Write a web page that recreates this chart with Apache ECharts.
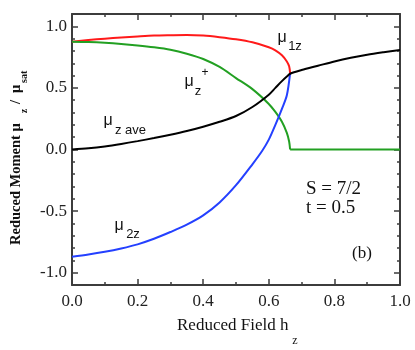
<!DOCTYPE html>
<html>
<head>
<meta charset="utf-8">
<script src="https://cdn.jsdelivr.net/npm/echarts@6/dist/echarts.min.js"></script>
<style>
  html, body { margin: 0; padding: 0; background: #fff; }
  #chart { width: 415px; height: 350px; }
</style>
</head>
<body>
<div id="chart"></div>
<script>
// reduced field h_z for each branch
const hMu1z = [0, 0.05, 0.1, 0.15, 0.2, 0.25, 0.3, 0.35, 0.4, 0.45, 0.5, 0.55, 0.6, 0.62, 0.64, 0.655, 0.662, 0.665]
const mu1z = [0.875, 0.888, 0.9, 0.91, 0.918, 0.925, 0.928, 0.93, 0.925, 0.912, 0.895, 0.87, 0.83, 0.805, 0.765, 0.715, 0.675, 0.62]

const hMu2z = [0, 0.05, 0.1, 0.15, 0.2, 0.25, 0.3, 0.35, 0.4, 0.45, 0.5, 0.55, 0.58, 0.6, 0.62, 0.64, 0.655, 0.665]
const mu2z = [-0.87, -0.852, -0.83, -0.803, -0.77, -0.725, -0.67, -0.61, -0.535, -0.43, -0.29, -0.12, -0.01, 0.08, 0.2, 0.33, 0.44, 0.62]

const hMuPlus = [0, 0.05, 0.1, 0.15, 0.2, 0.25, 0.3, 0.35, 0.4, 0.45, 0.5, 0.55, 0.6, 0.62, 0.64, 0.655, 0.662, 0.665]
const muPlus = [0.875, 0.872, 0.866, 0.857, 0.845, 0.83, 0.81, 0.778, 0.735, 0.67, 0.58, 0.49, 0.37, 0.305, 0.225, 0.135, 0.065, 0]
const hMuPlusFlat = [0.665, 1.0]
const muPlusFlat = [0, 0]

const hAve = [0, 0.05, 0.1, 0.15, 0.2, 0.25, 0.3, 0.35, 0.4, 0.45, 0.5, 0.55, 0.6, 0.62, 0.64, 0.655, 0.665, 0.7, 0.75, 0.8, 0.85, 0.9, 0.95, 1.0]
const muAve = [0, 0.01, 0.025, 0.045, 0.068, 0.093, 0.12, 0.15, 0.185, 0.225, 0.272, 0.345, 0.445, 0.5, 0.555, 0.592, 0.615, 0.645, 0.68, 0.715, 0.745, 0.77, 0.79, 0.808]

const yMajor = [-1, -0.5, 0, 0.5, 1]
const yMinor = []
for (let i = -11; i <= 11; i++) yMinor.push(i / 10)

const pairs = (xs, ys) => xs.map((x, i) => [x, ys[i]])

const axisColor = '#3c3c3c'
const serif = '"Liberation Serif", "DejaVu Serif", serif'
const sans = '"Liberation Sans", Arial, sans-serif'

function xAxisCfg(pos, labels) {
  return {
    type: 'value', position: pos, min: 0, max: 1, interval: 0.2,
    axisLine: { show: true, onZero: false, lineStyle: { color: axisColor, width: 2 } },
    axisTick: { show: true, inside: true, length: 6, lineStyle: { color: axisColor, width: 1.5 } },
    minorTick: { show: true, splitNumber: 2, length: 3, lineStyle: { color: axisColor, width: 1.5 } },
    axisLabel: { show: labels, margin: 8, color: '#222', fontFamily: serif, fontSize: 17,
      formatter: v => v.toFixed(1) },
    splitLine: { show: false },
  }
}

function yAxisCfg(pos, labels, ticks, len, line) {
  return {
    type: 'value', position: pos, min: -1.1, max: 1.1, offset: 0,
    axisLine: { show: line, onZero: false, lineStyle: { color: axisColor, width: 2 } },
    axisTick: { show: true, inside: true, length: len, customValues: ticks,
      lineStyle: { color: axisColor, width: 1.5 } },
    axisLabel: { show: labels, margin: 5, color: '#222', fontFamily: serif, fontSize: 17,
      customValues: yMajor, formatter: v => v.toFixed(1) },
    splitLine: { show: false },
  }
}

function txt(x, y, text, size, opts = {}) {
  return {
    type: 'text', x, y, rotation: opts.rotation || 0, silent: true,
    style: {
      text, fill: opts.color || '#111',
      font: (opts.weight || 'normal') + ' ' + size + 'px ' + (opts.family || sans),
      align: opts.align || 'center', verticalAlign: 'middle',
    },
  }
}

const chart = echarts.init(document.getElementById('chart'))

chart.setOption({
  animation: false,
  backgroundColor: '#fff',
  grid: { left: 72, right: 15, top: 14, bottom: 65, containLabel: false },
  xAxis: [xAxisCfg('bottom', true), xAxisCfg('top', false)],
  yAxis: [
    yAxisCfg('left', true, yMajor, 6, true),
    yAxisCfg('right', false, yMajor, 6, true),
    yAxisCfg('left', false, yMinor, 3, false),
    yAxisCfg('right', false, yMinor, 3, false),
  ],
  series: [
    { name: 'mu1z', type: 'line', data: pairs(hMu1z, mu1z), color: '#ff1a1a' },
    { name: 'muPlus', type: 'line', data: pairs(hMuPlus, muPlus), color: '#22a022' },
    { name: 'muPlusFlat', type: 'line', data: pairs(hMuPlusFlat, muPlusFlat), color: '#22a022', smooth: false },
    { name: 'mu2z', type: 'line', data: pairs(hMu2z, mu2z), color: '#2440ff' },
    { name: 'muAve', type: 'line', data: pairs(hAve, muAve), color: '#000' },
  ].map(s => Object.assign({
    showSymbol: false, smooth: 0.3, xAxisIndex: 0, yAxisIndex: 0,
    lineStyle: { width: 2 },
  }, s)),
  graphic: [
    // curve labels
    txt(282, 38, 'μ', 16),
    txt(295, 46, '1z', 13),
    txt(189, 82, 'μ', 16),
    txt(198, 91, 'z', 13),
    txt(205, 73, '+', 12),
    txt(108, 121, 'μ', 16),
    txt(115, 130, 'z ave', 13, { align: 'left' }),
    txt(119, 226, 'μ', 16),
    txt(133, 234, '2z', 13),
    // annotations
    txt(306, 189, 'S = 7/2', 19, { family: serif, align: 'left' }),
    txt(306, 208, 't = 0.5', 19, { family: serif, align: 'left' }),
    txt(362, 254, '(b)', 17, { family: serif }),
    // x axis name
    txt(177, 326, 'Reduced Field h', 17, { family: serif, align: 'left' }),
    txt(295, 341, 'z', 12, { family: serif }),
    // y axis name, reads bottom to top
    txt(16, 245, 'Reduced Moment μ', 14.5, { family: serif, align: 'left', rotation: Math.PI / 2, weight: 'bold' }),
    txt(24, 111, 'z', 10, { family: serif, rotation: Math.PI / 2, weight: 'bold' }),
    txt(16, 102, '/', 14.5, { family: serif, rotation: Math.PI / 2, weight: 'bold' }),
    txt(16, 89, 'μ', 14.5, { family: serif, rotation: Math.PI / 2, weight: 'bold' }),
    txt(24, 83, 'sat', 10, { family: serif, align: 'left', rotation: Math.PI / 2, weight: 'bold' }),
  ],
})
</script>
</body>
</html>
